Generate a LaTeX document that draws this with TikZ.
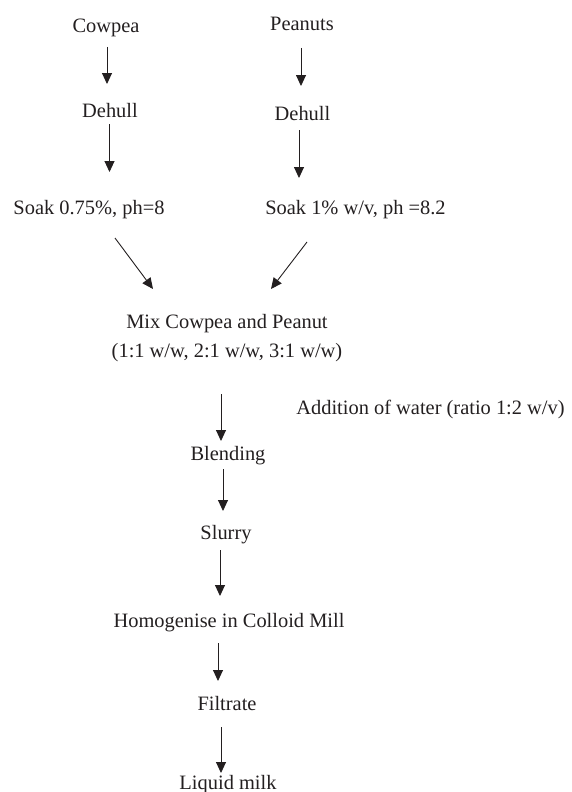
\documentclass[tikz,border=0pt]{standalone}
\usepackage{fontspec}
\setmainfont{Liberation Serif}
\usetikzlibrary{arrows.meta}
\definecolor{ink}{HTML}{231F20}
\begin{document}
\begin{tikzpicture}[x=1bp,y=-1bp,
  lbl/.style={inner sep=0pt,anchor=base,text=ink,font=\fontsize{20.5}{29}\selectfont},
  arr/.style={draw=ink,line width=0.9pt,-{Triangle[length=11pt,width=10pt]}}]
\useasboundingbox (0,0) rectangle (572,792);
% text nodes (baseline positions)
\node[lbl] (cow) at (106,33) {Cowpea};
\node[lbl] (pea) at (302,31) {Peanuts};
\node[lbl] (dh1) at (110,117) {Dehull};
\node[lbl] (dh2) at (302.5,120) {Dehull};
\node[lbl] (s1) at (89,214) {Soak 0.75\%, ph=8};
\node[lbl] (s2) at (355.5,214) {Soak 1\% w/v, ph =8.2};
\node[lbl,anchor=center,align=center] (mix) at (227,338) {Mix Cowpea and Peanut\\(1:1 w/w, 2:1 w/w, 3:1 w/w)};
\node[lbl] (water) at (430.5,414) {Addition of water (ratio 1:2 w/v)};
\node[lbl] (blend) at (228,460) {Blending};
\node[lbl] (slurry) at (226,539) {Slurry};
\node[lbl] (homog) at (229,627) {Homogenise in Colloid Mill};
\node[lbl] (filt) at (227,710) {Filtrate};
\node[lbl] (milk) at (228,789) {Liquid milk};
% arrow end points
\coordinate (c1a) at (107,47);  \coordinate (c1b) at (107,84);
\coordinate (p1a) at (301,48);  \coordinate (p1b) at (301,86);
\coordinate (c2a) at (109.5,124); \coordinate (c2b) at (109.5,172);
\coordinate (p2a) at (299,130); \coordinate (p2b) at (299,178);
\coordinate (c3a) at (115,238); \coordinate (c3b) at (153,289);
\coordinate (p3a) at (307,242); \coordinate (p3b) at (271,289);
\coordinate (m1a) at (221,394); \coordinate (m1b) at (221,441);
\coordinate (b1a) at (223,469); \coordinate (b1b) at (223,511);
\coordinate (s3a) at (220,550); \coordinate (s3b) at (220,596);
\coordinate (h1a) at (218,643); \coordinate (h1b) at (218,681);
\coordinate (f1a) at (221,727); \coordinate (f1b) at (221,773);
% connectors
\draw[arr] (c1a) -- (c1b);
\draw[arr] (p1a) -- (p1b);
\draw[arr] (c2a) -- (c2b);
\draw[arr] (p2a) -- (p2b);
\draw[arr] (c3a) -- (c3b);
\draw[arr] (p3a) -- (p3b);
\draw[arr] (m1a) -- (m1b);
\draw[arr] (b1a) -- (b1b);
\draw[arr] (s3a) -- (s3b);
\draw[arr] (h1a) -- (h1b);
\draw[arr] (f1a) -- (f1b);
\end{tikzpicture}
\end{document}
